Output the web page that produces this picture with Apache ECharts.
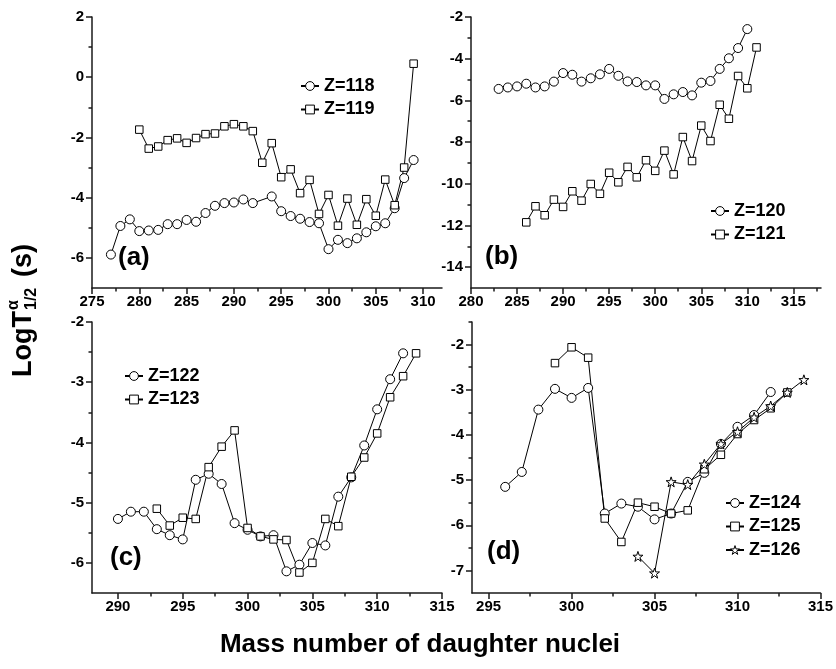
<!DOCTYPE html>
<html>
<head>
<meta charset="utf-8">
<script src="https://cdn.jsdelivr.net/npm/echarts@6/dist/echarts.min.js"></script>
<style>html,body{margin:0;padding:0;background:#fff}#chart{width:836px;height:669px}</style>
</head>
<body>
<div id="chart"></div>
<script>
// ---------------- data (mass number of daughter nucleus, log10 T1/2 in s) ----------------
const massZ118 = [277,278,279,280,281,282,283,284,285,286,287,288,289,290,291,292,294,295,296,297,298,299,300,301,302,303,304,305,306,307,308,309];
const logTZ118 = [-5.89,-4.94,-4.72,-5.11,-5.09,-5.07,-4.88,-4.88,-4.74,-4.80,-4.51,-4.27,-4.18,-4.16,-4.06,-4.18,-3.96,-4.45,-4.61,-4.70,-4.81,-4.85,-5.71,-5.40,-5.51,-5.35,-5.15,-4.95,-4.85,-4.35,-3.35,-2.75];
const massZ119 = [280,281,282,283,284,285,286,287,288,289,290,291,292,293,294,295,296,297,298,299,300,301,302,303,304,305,306,307,308,309];
const logTZ119 = [-1.74,-2.37,-2.30,-2.09,-2.03,-2.18,-2.02,-1.89,-1.87,-1.63,-1.56,-1.63,-1.79,-2.84,-2.19,-3.32,-3.06,-3.85,-3.41,-4.54,-3.91,-4.93,-4.03,-4.90,-4.05,-4.60,-3.40,-4.25,-3.00,0.45];
const massZ120 = [283,284,285,286,287,288,289,290,291,292,293,294,295,296,297,298,299,300,301,302,303,304,305,306,307,308,309,310];
const logTZ120 = [-5.45,-5.38,-5.33,-5.20,-5.38,-5.33,-5.10,-4.69,-4.77,-5.10,-4.94,-4.75,-4.49,-4.82,-5.09,-5.12,-5.28,-5.28,-5.93,-5.71,-5.60,-5.76,-5.15,-5.07,-4.49,-3.98,-3.49,-2.58];
const massZ121 = [286,287,288,289,290,291,292,293,294,295,296,297,298,299,300,301,302,303,304,305,306,307,308,309,310,311];
const logTZ121 = [-11.85,-11.08,-11.51,-10.76,-11.11,-10.36,-10.81,-10.01,-10.48,-9.47,-9.93,-9.19,-9.69,-8.87,-9.38,-8.41,-9.55,-7.76,-8.91,-7.21,-7.95,-6.21,-6.88,-4.83,-5.42,-3.46];
const massZ122 = [290,291,292,293,294,295,296,297,298,299,300,301,302,303,304,305,306,307,308,309,310,311,312];
const logTZ122 = [-5.27,-5.15,-5.15,-5.44,-5.54,-5.61,-4.62,-4.52,-4.69,-5.34,-5.45,-5.56,-5.54,-6.14,-6.03,-5.67,-5.71,-4.90,-4.58,-4.05,-3.45,-2.95,-2.52];
const massZ123 = [293,294,295,296,297,298,299,300,301,302,303,304,305,306,307,308,309,310,311,312,313];
const logTZ123 = [-5.10,-5.38,-5.25,-5.27,-4.41,-4.07,-3.80,-5.42,-5.56,-5.61,-5.62,-6.16,-6.00,-5.27,-5.39,-4.57,-4.25,-3.85,-3.25,-2.90,-2.52];
const massZ124 = [296,297,298,299,300,301,302,303,304,305,306,307,308,309,310,311,312];
const logTZ124 = [-5.15,-4.82,-3.44,-2.98,-3.18,-2.96,-5.74,-5.52,-5.59,-5.87,-5.74,-5.04,-4.84,-4.20,-3.82,-3.56,-3.05];
const massZ125 = [299,300,301,302,303,304,305,306,307,308,309,310,311,312,313];
const logTZ125 = [-2.41,-2.06,-2.29,-5.85,-6.37,-5.50,-5.59,-5.74,-5.67,-4.76,-4.44,-3.98,-3.67,-3.41,-3.06];
const massZ126 = [304,305,306,307,308,309,310,311,312,313,314];
const logTZ126 = [-6.69,-7.06,-5.04,-5.10,-4.65,-4.20,-3.93,-3.61,-3.36,-3.06,-2.78];

// ---------------- tick labels ----------------
const xLabelsA = [275,280,285,290,295,300,305,310];
const xMinorA  = [277.5,282.5,287.5,292.5,297.5,302.5,307.5];
const yLabelsA = [-6,-4,-2,0,2];
const yMinorA  = [-5,-3,-1,1];
const xLabelsB = [280,285,290,295,300,305,310,315];
const xMinorB  = [282.5,287.5,292.5,297.5,302.5,307.5,312.5,317.5];
const yLabelsB = [-14,-12,-10,-8,-6,-4,-2];
const yMinorB  = [-13,-11,-9,-7,-5,-3];
const xLabelsC = [290,295,300,305,310,315];
const xMinorC  = [292.5,297.5,302.5,307.5,312.5];
const yLabelsC = [-6,-5,-4,-3,-2];
const yMinorC  = [-5.5,-4.5,-3.5,-2.5];
const xLabelsD = [295,300,305,310,315];
const xMinorD  = [297.5,302.5,307.5,312.5];
const yLabelsD = [-7,-6,-5,-4,-3,-2];
const yMinorD  = [-6.5,-5.5,-4.5,-3.5,-2.5,-1.5];

const FONT = "'Liberation Sans', Arial, Helvetica, sans-serif";
const STAR = 'path://M50,0 L61.8,35.3 L97.6,35.3 L68.5,57.1 L79.4,92.7 L50,70.8 L20.6,92.7 L31.5,57.1 L2.4,35.3 L38.2,35.3 Z';
const AX = '#1a1a1a';

const panels = [
  {grid:{left:92, top:17, width:350, height:271}, x:[275,312], y:[-7,2],    xl:xLabelsA, xm:xMinorA, yl:yLabelsA, ym:yMinorA},
  {grid:{left:471,top:17, width:350, height:271}, x:[280,318], y:[-15,-2],  xl:xLabelsB, xm:xMinorB, yl:yLabelsB, ym:yMinorB},
  {grid:{left:92, top:322,width:350, height:271}, x:[288,315], y:[-6.5,-2], xl:xLabelsC, xm:xMinorC, yl:yLabelsC, ym:yMinorC},
  {grid:{left:472,top:322,width:350, height:271}, x:[294,315], y:[-7.5,-1.5],xl:xLabelsD, xm:xMinorD, yl:yLabelsD, ym:yMinorD}
];

const labelStyle = {color:'#000', fontSize:15, fontWeight:'bold', fontFamily:FONT};
const xAxes = [], yAxes = [];
panels.forEach((p, i) => {
  xAxes.push({type:'value', gridIndex:i, min:p.x[0], max:p.x[1], position:'bottom',
    axisLine:{show:true, onZero:false, lineStyle:{color:AX, width:1.5}},
    axisTick:{show:true, inside:false, length:6, customValues:p.xl, lineStyle:{color:AX, width:1.5}},
    axisLabel:Object.assign({show:true, margin:6, customValues:p.xl}, labelStyle),
    splitLine:{show:false}});
  yAxes.push({type:'value', gridIndex:i, min:p.y[0], max:p.y[1], position:'left',
    axisLine:{show:true, onZero:false, lineStyle:{color:AX, width:1.5}},
    axisTick:{show:true, inside:false, length:6, customValues:p.yl, lineStyle:{color:AX, width:1.5}},
    axisLabel:Object.assign({show:true, margin:8, customValues:p.yl}, labelStyle),
    splitLine:{show:false}});
});
panels.forEach((p, i) => {
  xAxes.push({type:'value', gridIndex:i, min:p.x[0], max:p.x[1], position:'bottom',
    axisLine:{show:false, onZero:false}, axisLabel:{show:false}, splitLine:{show:false},
    axisTick:{show:true, inside:false, length:3.5, customValues:p.xm, lineStyle:{color:AX, width:1.5}}});
  yAxes.push({type:'value', gridIndex:i, min:p.y[0], max:p.y[1], position:'left',
    axisLine:{show:false, onZero:false}, axisLabel:{show:false}, splitLine:{show:false},
    axisTick:{show:true, inside:false, length:3.5, customValues:p.ym, lineStyle:{color:AX, width:1.5}}});
});

function ser(name, idx, mass, logT, symbol, size) {
  return {name, type:'line', xAxisIndex:idx, yAxisIndex:idx,
    data: mass.map((m, k) => [m, logT[k]]),
    symbol, symbolSize:size, showAllSymbol:true,
    lineStyle:{color:'#000', width:1},
    itemStyle:{color:'#fff', borderColor:'#000', borderWidth:1},
    emphasis:{disabled:true}};
}

const series = [
  ser('Z=118', 0, massZ118, logTZ118, 'circle', 9),
  ser('Z=119', 0, massZ119, logTZ119, 'rect', 7.5),
  ser('Z=120', 1, massZ120, logTZ120, 'circle', 9),
  ser('Z=121', 1, massZ121, logTZ121, 'rect', 7.5),
  ser('Z=122', 2, massZ122, logTZ122, 'circle', 9),
  ser('Z=123', 2, massZ123, logTZ123, 'rect', 7.5),
  ser('Z=124', 3, massZ124, logTZ124, 'circle', 9),
  ser('Z=125', 3, massZ125, logTZ125, 'rect', 7.5),
  ser('Z=126', 3, massZ126, logTZ126, STAR, 10)
];

const openItem = {color:'#fff', borderColor:'#000', borderWidth:1};
const legendBase = {orient:'vertical', padding:0, itemGap:5.5, itemWidth:18, itemHeight:11, selectedMode:false,
  itemStyle:openItem,
  textStyle:{color:'#000', fontSize:18, fontWeight:'bold', fontFamily:FONT}};
const legends = [
  Object.assign({data:['Z=118','Z=119'], left:300, top:77}, legendBase),
  Object.assign({data:['Z=120','Z=121'], left:710, top:202}, legendBase),
  Object.assign({data:['Z=122','Z=123'], left:124, top:367}, legendBase),
  Object.assign({data:['Z=124','Z=125',{name:'Z=126', itemStyle:openItem}], left:725, top:494}, legendBase)
];

function tag(t, x, y) {
  return {type:'text', x, y, style:{text:t, fill:'#000', fontSize:26, fontWeight:'bold', fontFamily:FONT, align:'left', verticalAlign:'middle'}};
}

const graphic = [
  tag('(a)', 118, 258), tag('(b)', 485, 257), tag('(c)', 110, 558), tag('(d)', 487, 552),
  {type:'text', x:420, y:645, style:{text:'Mass number of daughter nuclei', fill:'#000', fontSize:26, fontWeight:'bold', fontFamily:FONT, align:'center', verticalAlign:'middle'}},
  {type:'group', x:24, y:303, rotation:Math.PI/2, children:[
    {type:'text', x:-74, y:0, style:{text:'LogT', fill:'#000', fontSize:27, fontWeight:'bold', fontFamily:FONT, align:'left', verticalAlign:'middle'}},
    {type:'text', x:-7, y:-10, style:{text:'α', fill:'#000', fontSize:16, fontWeight:'bold', fontFamily:FONT, align:'left', verticalAlign:'middle'}},
    {type:'text', x:-7, y:8, style:{text:'1/2', fill:'#000', fontSize:16, fontWeight:'bold', fontFamily:FONT, align:'left', verticalAlign:'middle'}},
    {type:'text', x:26, y:0, style:{text:'(s)', fill:'#000', fontSize:27, fontWeight:'bold', fontFamily:FONT, align:'left', verticalAlign:'middle'}}
  ]}
];

const chart = echarts.init(document.getElementById('chart'), null, {renderer:'canvas'});
chart.setOption({
  animation:false,
  backgroundColor:'#fff',
  grid: panels.map(p => Object.assign({containLabel:false}, p.grid)),
  xAxis: xAxes,
  yAxis: yAxes,
  legend: legends,
  series,
  graphic
});
</script>
</body>
</html>
